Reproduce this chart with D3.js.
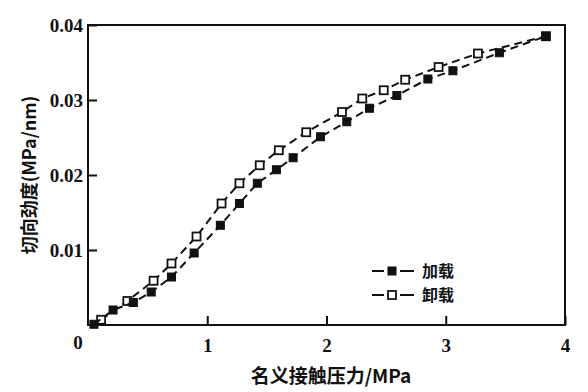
<!DOCTYPE html>
<html><head><meta charset="utf-8">
<script src="https://cdn.jsdelivr.net/npm/d3@7"></script>
<style>
html,body{margin:0;padding:0;background:#fff;}
svg{display:block;}
</style></head>
<body>
<svg id="chart" width="588" height="392"></svg>
<script>
// Data
const loadX = [0.05, 0.21, 0.38, 0.53, 0.70, 0.89, 1.11, 1.27, 1.42, 1.58, 1.72, 1.95, 2.17, 2.36, 2.59, 2.85, 3.06, 3.45, 3.84];
const loadY = [0.0001, 0.0020, 0.0030, 0.0044, 0.0064, 0.0096, 0.0133, 0.0162, 0.0189, 0.0207, 0.0223, 0.0251, 0.0271, 0.0289, 0.0306, 0.0328, 0.0339, 0.0363, 0.0385];
const unloadX = [0.11, 0.33, 0.55, 0.70, 0.91, 1.12, 1.27, 1.44, 1.60, 1.83, 2.13, 2.30, 2.48, 2.66, 2.94, 3.27, 3.84];
const unloadY = [0.0007, 0.0032, 0.0059, 0.0082, 0.0118, 0.0162, 0.0189, 0.0213, 0.0233, 0.0257, 0.0284, 0.0302, 0.0313, 0.0327, 0.0344, 0.0362, 0.0385];
const xTicks = [1, 2, 3, 4];
const yTicks = [0.01, 0.02, 0.03, 0.04];
const seriesNames = ["加载", "卸载"];
const xTitle = "名义接触压力/MPa";
const yTitle = "切向劲度(MPa/nm)";

const svg = d3.select("#chart");
const L = 88, R = 565, T = 25, B = 325;
const x = d3.scaleLinear().domain([0, 4]).range([L, R]);
const y = d3.scaleLinear().domain([0, 0.04]).range([B, T]);

const numFont = "'Liberation Serif','DejaVu Serif',serif";
const cjkFont = "'Noto Sans CJK SC','Noto Sans',sans-serif";

// frame
svg.append("rect").attr("x", L).attr("y", T).attr("width", R - L).attr("height", B - T)
  .attr("fill", "none").attr("stroke", "#111").attr("stroke-width", 2);

// x axis (ticks inward)
const xAxis = d3.axisBottom(x).tickValues(xTicks).tickSize(-9).tickPadding(14).tickFormat(d3.format("d"));
const gx = svg.append("g").attr("transform", `translate(0,${B})`).call(xAxis);
gx.select(".domain").remove();
gx.selectAll("line").attr("stroke", "#111").attr("stroke-width", 2);
gx.selectAll("text").attr("font-family", numFont).attr("font-weight", "bold").attr("font-size", 19).attr("fill", "#111");
// origin label
svg.append("text").attr("x", 78).attr("y", 349).attr("text-anchor", "middle")
  .attr("font-family", numFont).attr("font-weight", "bold").attr("font-size", 19).attr("fill", "#111").text("0");

// y axis (ticks inward)
const yAxis = d3.axisLeft(y).tickValues(yTicks).tickSize(-9).tickPadding(5).tickFormat(d3.format(".2f"));
const gy = svg.append("g").attr("transform", `translate(${L},0)`).call(yAxis);
gy.select(".domain").remove();
gy.selectAll("line").attr("stroke", "#111").attr("stroke-width", 2);
gy.selectAll("text").attr("font-family", numFont).attr("font-weight", "bold").attr("font-size", 19).attr("fill", "#111");

// titles
svg.append("text").attr("x", 331).attr("y", 383).attr("text-anchor", "middle")
  .attr("font-family", cjkFont).attr("font-weight", "bold").attr("font-size", 19).attr("fill", "#111").text(xTitle);
svg.append("text").attr("transform", "translate(36,175) rotate(-90)").attr("text-anchor", "middle")
  .attr("font-family", cjkFont).attr("font-weight", "bold").attr("font-size", 18).attr("fill", "#111").text(yTitle);

const line = d3.line().x(d => x(d[0])).y(d => y(d[1]));
const loadData = loadX.map((v, i) => [v, loadY[i]]);
const unloadData = unloadX.map((v, i) => [v, unloadY[i]]);
const ms = 8;

function drawSeries(data, filled) {
  svg.append("path").datum(data).attr("d", line).attr("fill", "none")
    .attr("stroke", "#111").attr("stroke-width", 2).attr("stroke-dasharray", "8,5");
  svg.append("g").selectAll("rect").data(data).join("rect")
    .attr("x", d => x(d[0]) - ms / 2).attr("y", d => y(d[1]) - ms / 2)
    .attr("width", ms).attr("height", ms)
    .attr("fill", filled ? "#111" : "#fff").attr("stroke", "#111").attr("stroke-width", filled ? 1 : 1.8);
}
drawSeries(unloadData, false);
drawSeries(loadData, true);

// legend
const leg = [{ y: 271, filled: true, name: seriesNames[0] }, { y: 295, filled: false, name: seriesNames[1] }];
leg.forEach(l => {
  svg.append("line").attr("x1", 372).attr("x2", 384).attr("y1", l.y).attr("y2", l.y).attr("stroke", "#111").attr("stroke-width", 2);
  svg.append("line").attr("x1", 400).attr("x2", 414).attr("y1", l.y).attr("y2", l.y).attr("stroke", "#111").attr("stroke-width", 2);
  svg.append("rect").attr("x", 392 - ms / 2).attr("y", l.y - ms / 2).attr("width", ms).attr("height", ms)
    .attr("fill", l.filled ? "#111" : "#fff").attr("stroke", "#111").attr("stroke-width", l.filled ? 1 : 1.8);
  svg.append("text").attr("x", 422).attr("y", l.y + 6).attr("font-family", cjkFont).attr("font-weight", "bold")
    .attr("font-size", 16).attr("fill", "#111").text(l.name);
});
</script>
</body></html>
